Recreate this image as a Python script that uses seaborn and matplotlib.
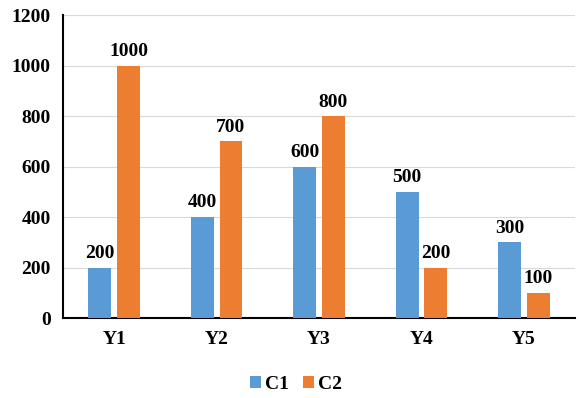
import pandas as pd
import matplotlib
matplotlib.use("Agg")
import matplotlib.pyplot as plt
import seaborn as sns

# Chart data
years = ["Y1", "Y2", "Y3", "Y4", "Y5"]
c1 = [200, 400, 600, 500, 300]
c2 = [1000, 700, 800, 200, 100]

df = pd.DataFrame({
    "year": years * 2,
    "value": c1 + c2,
    "series": ["C1"] * len(years) + ["C2"] * len(years),
})

sns.set_style("white")
plt.rcParams["font.family"] = ["Liberation Serif", "DejaVu Serif"]
plt.rcParams["font.weight"] = "bold"
plt.rcParams["text.color"] = "black"
plt.rcParams["xtick.color"] = "black"
plt.rcParams["ytick.color"] = "black"

fsize = 14

fig = plt.figure(figsize=(5.79, 3.98), dpi=100)
ax = fig.add_axes([0.109, 0.201, 0.884, 0.761])

sns.barplot(data=df, x="year", y="value", hue="series",
            palette={"C1": "#5B9BD5", "C2": "#ED7D31"},
            width=0.56, gap=0.2, saturation=1, linewidth=0,
            ax=ax, zorder=3)

# Value labels above bars
for cont in ax.containers:
    ax.bar_label(cont, padding=4, fontsize=fsize, fontweight="bold",
                 color="black")

ax.set_ylim(0, 1200)
ax.set_xlim(-0.5, 4.5)
ax.set_yticks(range(0, 1201, 200))
ax.yaxis.grid(True, color="#d9d9d9", linewidth=0.8, zorder=0)
ax.set_axisbelow(True)
ax.set_xlabel("")
ax.set_ylabel("")
ax.tick_params(axis="both", length=0, labelsize=fsize, labelcolor="black")
ax.tick_params(axis="x", pad=9)
ax.tick_params(axis="y", pad=9)
for lbl in ax.get_xticklabels() + ax.get_yticklabels():
    lbl.set_fontweight("bold")

for side in ["top", "right"]:
    ax.spines[side].set_visible(False)
for side in ["left", "bottom"]:
    ax.spines[side].set_color("black")
    ax.spines[side].set_linewidth(1.5)

ax.legend(title=None, loc="lower center", bbox_to_anchor=(0.455, -0.305),
          ncol=2, frameon=False, handlelength=0.6, handleheight=0.6,
          handletextpad=0.2, columnspacing=0.7,
          prop={"size": fsize, "weight": "bold"})

fig.savefig("out.png", dpi=100)
